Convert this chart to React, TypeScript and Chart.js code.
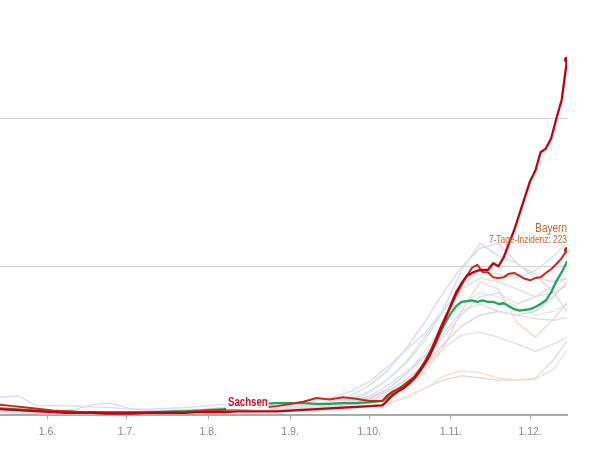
import React, { useEffect, useRef } from 'react';
import { Chart, registerables } from 'chart.js';

Chart.register(...registerables);

const FONT = "'Liberation Sans', Arial, sans-serif";

// x values are day-of-year 2020 (135 = 14 May, 350 = 15 Dec)
const tickDays = [153, 183, 214, 245, 275, 306, 336];
const tickLabels = ['1.6.', '1.7.', '1.8.', '1.9.', '1.10.', '1.11.', '1.12.'];

const mainDays = [
  135, 140, 145, 150, 155, 160, 165, 170, 175, 180, 185, 190, 195, 200, 205,
  210, 215, 220, 225, 230, 235, 240, 245, 250, 255, 260, 265, 270, 275, 280,
  282, 284, 286, 288, 290, 292, 294, 296, 298, 300, 302, 304, 306, 308, 310,
  312, 314, 316, 318, 320, 322, 324, 326, 328, 330, 332, 334, 336, 338, 340,
  342, 344, 346, 348, 350,
];

const sachsen = [
  8, 7, 6, 5, 4, 3, 3, 3, 2, 2, 2, 3, 3, 3, 3,
  4, 4, 4, 5, 5, 5, 5, 6, 7, 8, 9, 10, 11, 12, 13,
  20, 27, 32, 36, 42, 49, 58, 69, 81, 97, 115, 131, 149, 166, 178,
  188, 192, 195, 196, 196, 205, 201, 213, 232, 250, 272, 294, 316, 330, 355,
  360, 374, 401, 426, 480,
];

const bayern = [
  14, 12, 10, 8, 6, 5, 4, 4, 3, 3, 3, 3, 4, 4, 4,
  5, 6, 7, 8, 9, 10, 12, 15, 18, 23, 21, 24, 22, 19, 19,
  27, 32, 35, 40, 46, 51, 61, 72, 85, 101, 118, 134, 147, 162, 176,
  188, 199, 203, 193, 193, 186, 185, 186, 191, 192, 188, 184, 182, 185, 186,
  192, 197, 204, 212, 223,
];

const greenState = [
  9, 8, 7, 6, 5, 5, 4, 4, 4, 4, 4, 4, 4, 5, 5,
  6, 7, 8, 10, 12, 15, 16, 16, 16, 15, 15, 16, 16, 17, 19,
  24, 31, 35, 39, 45, 51, 59, 69, 81, 96, 111, 126, 138, 147, 153,
  154, 155, 153, 155, 153, 153, 150, 151, 147, 143, 141, 142, 143, 146, 150,
  155, 166, 181, 193, 207,
];

const faintDays = [
  135, 142, 149, 156, 163, 170, 177, 184, 191, 198, 205, 212, 219, 226, 233, 240,
  247, 254, 261, 268, 275, 282, 289, 296, 303, 310, 317, 324, 331, 338, 345, 350,
];

const faintBlueA = [24, 26, 12, 13, 12, 11, 10, 8, 8, 9, 10, 12, 14, 15, 16, 16, 17, 20, 24, 32, 45, 65, 88, 110, 142, 195, 232, 215, 205, 190, 165, 140];
const faintLavA = [10, 8, 6, 5, 7, 14, 16, 9, 6, 6, 7, 8, 10, 12, 13, 12, 12, 14, 18, 26, 40, 60, 90, 125, 165, 200, 225, 232, 205, 185, 180, 185];
const faintGreenA = [6, 5, 4, 3, 3, 3, 3, 3, 4, 4, 5, 6, 7, 8, 9, 9, 10, 12, 16, 22, 32, 48, 70, 100, 140, 175, 195, 190, 185, 195, 215, 232];
const faintBlueB = [4, 3, 3, 2, 2, 2, 3, 3, 3, 4, 4, 5, 6, 7, 8, 8, 9, 10, 13, 18, 26, 40, 58, 80, 110, 140, 150, 140, 135, 130, 128, 132];
const faintLavB = [3, 3, 2, 2, 2, 2, 2, 2, 3, 3, 3, 4, 5, 5, 6, 6, 7, 9, 12, 16, 24, 35, 55, 78, 105, 135, 160, 165, 150, 160, 175, 185];
const faintMauve = [5, 4, 4, 3, 3, 3, 3, 3, 3, 4, 4, 5, 6, 6, 7, 7, 8, 9, 11, 15, 22, 32, 48, 68, 95, 120, 135, 140, 135, 140, 160, 180];
const faintOrangeA = [6, 5, 4, 4, 3, 3, 3, 3, 4, 4, 5, 6, 7, 8, 8, 8, 9, 10, 12, 15, 20, 28, 40, 58, 90, 140, 180, 170, 125, 105, 130, 152];
const faintOrangeB = [5, 4, 4, 3, 3, 3, 3, 3, 3, 3, 4, 4, 5, 5, 6, 6, 6, 7, 8, 10, 12, 16, 24, 36, 52, 60, 57, 50, 47, 48, 62, 88];
const faintGrayLow = [4, 4, 3, 3, 3, 2, 2, 2, 3, 3, 3, 4, 4, 5, 5, 5, 6, 6, 7, 9, 11, 15, 24, 36, 47, 53, 50, 47, 47, 50, 75, 100];
const faintGrayMid = [6, 5, 4, 4, 3, 3, 3, 3, 3, 4, 4, 5, 5, 6, 6, 7, 7, 8, 10, 13, 18, 28, 45, 65, 90, 108, 112, 105, 96, 86, 96, 105];
const faintGrayHigh = [8, 7, 6, 5, 4, 4, 3, 3, 3, 4, 5, 6, 7, 8, 9, 9, 10, 12, 15, 20, 30, 48, 72, 105, 140, 170, 185, 180, 170, 160, 165, 175];
const faintGreenB = [5, 4, 4, 3, 3, 3, 3, 3, 3, 4, 4, 5, 5, 6, 7, 7, 8, 9, 11, 15, 22, 35, 55, 85, 120, 150, 165, 160, 145, 135, 140, 150];

const faintSeries = [
  { values: faintBlueA, color: '#d6dbf8' },
  { values: faintLavA, color: '#e0d6f0' },
  { values: faintGreenA, color: '#d2eadd' },
  { values: faintBlueB, color: '#d8e0f3' },
  { values: faintLavB, color: '#e3d8ed' },
  { values: faintMauve, color: '#e4d2d9' },
  { values: faintOrangeA, color: '#f7d9ca' },
  { values: faintOrangeB, color: '#f7dfd1' },
  { values: faintGrayLow, color: '#dfdfdf' },
  { values: faintGrayMid, color: '#e2e2e2' },
  { values: faintGrayHigh, color: '#e0e0e0' },
  { values: faintGreenB, color: '#d9ede1' },
];

const sachsenLabel = 'Sachsen';
const sachsenLabelDay = 236.5;
const sachsenLabelValue = 17;
const bayernLabel = 'Bayern';
const bayernSubLabel = '7-Tage-Inzidenz: 223';

const toPoints = (days: number[], vals: number[]) => days.map((d, i) => ({ x: d, y: vals[i] }));

function narrowText(ctx: any, text: string, x: number, y: number, font: string, color: string, sx: number) {
  ctx.save();
  ctx.font = font;
  ctx.fillStyle = color;
  ctx.textAlign = 'right';
  ctx.textBaseline = 'middle';
  ctx.translate(x, y);
  ctx.scale(sx, 1);
  ctx.fillText(text, 0, 0);
  ctx.restore();
}

const labelPlugin = {
  id: 'labels',
  afterDatasetsDraw(chart: any) {
    const { ctx } = chart;
    const xs = chart.scales.x;
    const ys = chart.scales.y;
    // Sachsen label with white background
    const sx = xs.getPixelForValue(sachsenLabelDay);
    const sy = ys.getPixelForValue(sachsenLabelValue);
    const sFont = `bold 13px ${FONT}`;
    ctx.save();
    ctx.font = sFont;
    const w = ctx.measureText(sachsenLabel).width * 0.74;
    ctx.fillStyle = '#ffffff';
    ctx.fillRect(sx - w - 2, sy - 7, w + 3, 14);
    ctx.restore();
    narrowText(ctx, sachsenLabel, sx, sy, sFont, '#c8101e', 0.74);
    // Bayern label at last point
    const last = mainDays.length - 1;
    const bx = xs.getPixelForValue(mainDays[last]);
    const by = ys.getPixelForValue(bayern[last]);
    narrowText(ctx, bayernLabel, bx, by - 22, `13.5px ${FONT}`, '#c4652b', 0.74);
    narrowText(ctx, bayernSubLabel, bx, by - 10, `11px ${FONT}`, '#c4652b', 0.76);
  },
};

export default function App() {
  const ref = useRef<HTMLCanvasElement>(null);
  useEffect(() => {
    const last = mainDays.length - 1;
    const endDot = (ctx: any) => (ctx.dataIndex === last ? 3 : 0);
    const datasets: any[] = [
      {
        data: toPoints(mainDays, sachsen),
        borderColor: '#c0000c',
        backgroundColor: '#c0000c',
        borderWidth: 2.3,
        pointRadius: endDot,
        pointBorderWidth: 0,
      },
      {
        data: toPoints(mainDays, bayern),
        borderColor: '#c9281d',
        backgroundColor: '#c9281d',
        borderWidth: 2,
        pointRadius: endDot,
        pointBorderWidth: 0,
      },
      {
        data: toPoints(mainDays, greenState),
        borderColor: '#22a55a',
        borderWidth: 2.3,
        pointRadius: 0,
      },
      ...faintSeries.map((s) => ({
        data: toPoints(faintDays, s.values),
        borderColor: s.color,
        borderWidth: 1.4,
        pointRadius: 0,
      })),
    ];
    const chart = new Chart(ref.current!, {
      type: 'line',
      data: { datasets },
      plugins: [labelPlugin],
      options: {
        animation: false,
        responsive: false,
        devicePixelRatio: 1,
        layout: { autoPadding: false, padding: { left: 0, right: 33, top: 0, bottom: 0 } },
        elements: { line: { tension: 0, borderJoinStyle: 'round', borderCapStyle: 'round' } },
        plugins: { legend: { display: false }, tooltip: { enabled: false } },
        scales: {
          x: {
            type: 'linear',
            min: 135,
            max: 350,
            afterBuildTicks: (s: any) => {
              s.ticks = tickDays.map((v) => ({ value: v }));
            },
            afterFit: (s: any) => {
              s.height = 35;
            },
            ticks: {
              autoSkip: false,
              maxRotation: 0,
              padding: 7,
              color: '#8a8a8a',
              font: { family: FONT, size: 10.5 },
              callback: (v: any) => {
                const i = tickDays.indexOf(Number(v));
                return i >= 0 ? tickLabels[i] : '';
              },
            },
            grid: { drawOnChartArea: false, drawTicks: true, tickLength: 4, color: '#aaaaaa' },
            border: { display: true, color: '#aaaaaa', width: 2 },
          },
          y: {
            min: 0,
            max: 560.8,
            afterBuildTicks: (s: any) => {
              s.ticks = [{ value: 200 }, { value: 400 }];
            },
            afterFit: (s: any) => {
              s.width = 0;
            },
            ticks: { display: false },
            grid: { color: '#d2d2d2', lineWidth: 1, drawTicks: false },
            border: { display: false },
          },
        },
      },
    } as any);
    return () => chart.destroy();
  }, []);
  return (
    <div style={{ position: 'fixed', left: 0, top: 0, width: 600, height: 450, background: '#fff' }}>
      <canvas ref={ref} width={600} height={450} style={{ display: 'block', width: 600, height: 450 }} />
    </div>
  );
}
